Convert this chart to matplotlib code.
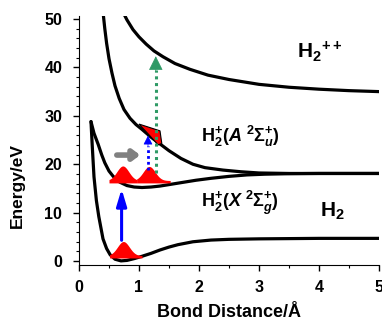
import matplotlib
matplotlib.use("Agg")
import matplotlib.pyplot as plt
from matplotlib.patches import Polygon
from matplotlib.ticker import MultipleLocator
import numpy as np

plt.rcParams['font.family'] = ['Liberation Sans', 'DejaVu Sans']
plt.rcParams['font.weight'] = 'bold'
plt.rcParams['mathtext.fontset'] = 'custom'
plt.rcParams['mathtext.rm'] = 'Liberation Sans:bold'
plt.rcParams['mathtext.it'] = 'Liberation Sans:bold:italic'
plt.rcParams['mathtext.bf'] = 'Liberation Sans:bold'

# potential curves (bond distance in A, energy in eV)
h2_r = [0.20, 0.22, 0.25, 0.29, 0.33, 0.40, 0.46, 0.52, 0.60, 0.70, 0.80, 0.93,
        1.05, 1.20, 1.35, 1.50, 1.65, 1.90, 2.20, 2.50, 3.00, 3.50, 4.00, 5.00]
h2_e = [28.8, 24.0, 17.4, 12.5, 9.2, 4.6, 2.6, 1.3, 0.4, 0.05, 0.15, 0.55,
        1.0, 1.6, 2.3, 2.9, 3.4, 4.0, 4.35, 4.5, 4.6, 4.65, 4.7, 4.7]

x_r = [0.20, 0.25, 0.32, 0.38, 0.43, 0.50, 0.57, 0.68, 0.80, 0.92, 1.05, 1.20,
       1.35, 1.55, 1.75, 1.95, 2.20, 2.50, 2.80, 3.10, 3.50, 4.00, 5.00]
x_e = [28.8, 26.4, 24.1, 21.9, 20.3, 18.6, 17.5, 16.3, 15.6, 15.3, 15.2, 15.3,
       15.5, 15.9, 16.3, 16.7, 17.1, 17.5, 17.8, 17.95, 18.05, 18.1, 18.1]

a_r = [0.40, 0.43, 0.46, 0.50, 0.55, 0.60, 0.67, 0.75, 0.85, 0.95, 1.05, 1.20,
       1.35, 1.50, 1.70, 1.90, 2.10, 2.40, 2.70, 3.00, 3.50, 5.00]
a_e = [51.5, 48.0, 45.0, 41.8, 38.8, 36.2, 33.6, 31.3, 29.5, 28.2, 27.2, 25.6,
       24.2, 22.8, 21.2, 20.0, 19.3, 18.8, 18.45, 18.2, 18.1, 18.1]

dc_r = [0.75, 0.80, 0.90, 1.00, 1.12, 1.25, 1.40, 1.60, 1.85, 2.15, 2.50, 3.00,
        3.50, 4.00, 4.50, 5.00]
dc_e = [51.0, 49.8, 47.8, 46.3, 44.8, 43.4, 42.2, 40.8, 39.6, 38.4, 37.5, 36.5,
        35.9, 35.5, 35.2, 35.0]

# wave packets: centre, base energy, peak height, left/right extent of base
pk_r = [0.74, 0.73, 1.17]
pk_base = [0.9, 16.4, 16.4]
pk_h = [2.9, 3.0, 2.9]
pk_left = [0.51, 0.50, 0.96]
pk_right = [1.05, 0.96, 1.52]

# red patch on the A state
patch_r = [1.00, 1.35, 1.38, 1.32, 1.15]
patch_e = [28.3, 26.9, 24.3, 24.0, 26.3]

fig = plt.figure(figsize=(3.82, 3.25), dpi=100)
ax = fig.add_axes([0.2068, 0.1846, 0.7853, 0.766])

lw = 2.3
for r, e in [(h2_r, h2_e), (x_r, x_e), (a_r, a_e), (dc_r, dc_e)]:
    ax.plot(r, e, color='black', lw=lw, solid_capstyle='round', zorder=3)

# wave packets (gaussian glyphs sitting on a thin red base)
for c, b, h, lo, hi in zip(pk_r, pk_base, pk_h, pk_left, pk_right):
    xs = np.linspace(lo, hi, 150)
    ys = b + h * np.exp(-((xs - c) / 0.14) ** 2) + 0.25
    ax.fill_between(xs, b - 0.25, ys, color='#ff0000', lw=0, zorder=4)

ax.add_patch(Polygon(list(zip(patch_r, patch_e)), closed=True, facecolor='#ff0000',
                     edgecolor='black', lw=0.8, zorder=5))

# blue solid arrow
ax.annotate('', xy=(0.71, 14.9), xytext=(0.71, 4.3),
            arrowprops=dict(arrowstyle='-|>,head_width=0.3,head_length=1.0',
                            color='#0000ff', lw=2.2, shrinkA=0, shrinkB=0), zorder=6)

# gray arrow
ax.annotate('', xy=(1.02, 21.9), xytext=(0.63, 21.9),
            arrowprops=dict(arrowstyle='-|>,head_width=0.3,head_length=0.4',
                            color='#808080', lw=4.0, shrinkA=0, shrinkB=0), zorder=6)

# blue dotted arrow
ax.plot([1.15, 1.15], [18.8, 23.8], color='#0000ff', lw=2.0, ls=(0, (1, 1.1)), zorder=6)
ax.annotate('', xy=(1.15, 25.9), xytext=(1.15, 23.6),
            arrowprops=dict(arrowstyle='-|>,head_width=0.28,head_length=0.55',
                            color='#0000ff', lw=0.5, shrinkA=0, shrinkB=0), zorder=6)

# green dotted arrow
ax.plot([1.28, 1.28], [18.2, 39.5], color='#2f9a66', lw=2.2, ls=(0, (1, 1.2)), zorder=6)
ax.annotate('', xy=(1.28, 42.3), xytext=(1.28, 39.2),
            arrowprops=dict(arrowstyle='-|>,head_width=0.45,head_length=0.9',
                            color='#2f9a66', lw=0.5, shrinkA=0, shrinkB=0), zorder=6)

# labels
ax.text(3.63, 42.0, r'H$_{\mathbf{2}}$$^{\mathbf{++}}$', fontsize=15, fontweight='bold')
ax.text(4.02, 9.2, r'H$_{\mathbf{2}}$', fontsize=15, fontweight='bold')
ax.text(2.03, 24.6, r'H$_{2}^{+}$($A$ $^{2}\Sigma_{u}^{+}$)', fontsize=13, fontweight='bold')
ax.text(2.03, 11.2, r'H$_{2}^{+}$($X$ $^{2}\Sigma_{g}^{+}$)', fontsize=13, fontweight='bold')

ax.set_xlim(0, 5)
ax.set_ylim(-0.8, 50.6)
ax.xaxis.set_major_locator(MultipleLocator(1))
ax.xaxis.set_minor_locator(MultipleLocator(0.5))
ax.yaxis.set_major_locator(MultipleLocator(10))
ax.yaxis.set_minor_locator(MultipleLocator(2))
ax.spines['top'].set_visible(False)
ax.spines['right'].set_visible(False)
ax.tick_params(which='major', length=4, width=1, labelsize=11.5)
ax.tick_params(axis='x', which='major', pad=7)
ax.tick_params(axis='y', which='major', pad=8)
ax.tick_params(which='minor', length=2.5, width=0.8)
for lab in ax.get_xticklabels() + ax.get_yticklabels():
    lab.set_fontweight('bold')

ax.set_xlabel('Bond Distance/Å', fontsize=13, fontweight='bold', labelpad=6)
ax.set_ylabel('Energy/eV', fontsize=12.5, fontweight='bold')
ax.yaxis.set_label_coords(-0.18, 0.32)

fig.savefig('out.png', dpi=100)
